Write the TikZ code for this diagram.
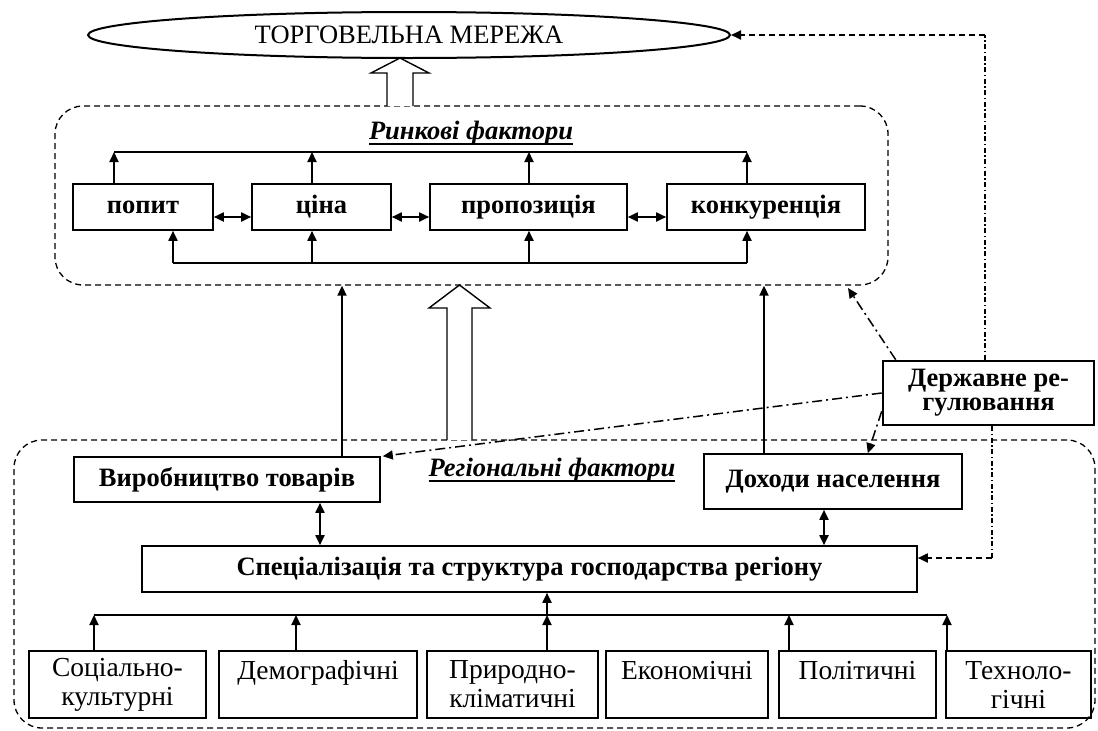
\documentclass[tikz,border=0pt]{standalone}
\usepackage{fontspec}
\setmainfont{Liberation Serif}
\usetikzlibrary{arrows.meta,shapes.geometric}
\newcommand\myul[1]{\setbox0\hbox{#1}\leavevmode\rlap{\rule[-6pt]{\wd0}{2.5pt}}\box0}
\begin{document}
\begin{tikzpicture}[x=1pt,y=-1pt,
  arr/.style={line width=1.8pt,-{Triangle[length=10pt,width=9pt]}},
  darr/.style={line width=1.8pt,{Triangle[length=10pt,width=9pt]}-{Triangle[length=10pt,width=9pt]}},
  ln/.style={line width=1.8pt},
  box/.style={draw,line width=1.6pt,inner sep=0pt,font=\fontsize{26.5}{29}\selectfont\bfseries},
  fbox/.style={draw,line width=1.4pt,inner sep=0pt,align=center,font=\fontsize{27.5}{29}\selectfont},
  group/.style={draw,line width=1.3pt,dash pattern=on 6pt off 4pt,rounded corners=28pt,inner sep=0pt},
  dd/.style={line width=1.5pt,dash pattern=on 10pt off 4pt on 2pt off 4pt},
  vdd/.style={line width=1.3pt,dash pattern=on 5pt off 2.5pt on 1.5pt off 2.5pt},
  dsh/.style={line width=1.8pt,dash pattern=on 6pt off 4pt},
  head/.style={font=\fontsize{26.5}{29}\selectfont\bfseries\itshape,inner sep=0pt},
  barrow/.style={draw,line width=1.4pt,fill=white,line join=miter}
]
\useasboundingbox (0,0) rectangle (1098,731);
% group boxes
\node[group,minimum width=833pt,minimum height=179pt] (market) at (471.5,195.5) {};
\node[group,minimum width=1081pt,minimum height=288pt] (region) at (554.5,584) {};
% top
\node[draw,ellipse,line width=2pt,minimum width=642pt,minimum height=46pt,inner sep=0pt,font=\fontsize{26.5}{29}\selectfont] (ell) at (409,35) {ТОРГОВЕЛЬНА МЕРЕЖА};
% block arrows
\draw[barrow] (387,106) -- (387,73) -- (371,73) -- (400,58) -- (429,73) -- (413,73) -- (413,106);
\draw[barrow] (447,440) -- (447,308) -- (429,308) -- (459.5,285) -- (490,308) -- (472,308) -- (472,440);
% market
\node[head] (mlab) at (471,133) {\myul{Ринкові фактори}};
\node[box,minimum width=140pt,minimum height=46pt] (popyt) at (143,207) {попит};
\node[box,minimum width=139pt,minimum height=46pt] (cina) at (321.5,207) {ціна};
\node[box,minimum width=197pt,minimum height=46pt] (prop) at (528.5,207) {пропозиція};
\node[box,minimum width=198pt,minimum height=46pt] (konk) at (766,207) {конкуренція};
\draw[darr] ([yshift=-10pt]popyt.east) -- ([yshift=-10pt]cina.west);
\draw[darr] ([yshift=-10pt]cina.east) -- ([yshift=-10pt]prop.west);
\draw[darr] ([yshift=-10pt]prop.east) -- ([yshift=-10pt]konk.west);
\coordinate (t1) at (114,152);
\coordinate (t2) at (312,152);
\coordinate (t3) at (529,152);
\coordinate (t4) at (747,152);
\draw[ln] (t1) -- (t4);
\draw[arr] (popyt.north -| t1) -- (t1);
\draw[arr] (cina.north -| t2) -- (t2);
\draw[arr] (prop.north -| t3) -- (t3);
\draw[arr] (konk.north -| t4) -- (t4);
\coordinate (u1) at (173,263);
\coordinate (u2) at (312,263);
\coordinate (u3) at (529,263);
\coordinate (u4) at (747,263);
\draw[ln] (u1) -- (u4);
\draw[arr] (u1) -- (popyt.south -| u1);
\draw[arr] (u2) -- (cina.south -| u2);
\draw[arr] (u3) -- (prop.south -| u3);
\draw[arr] (u4) -- (konk.south -| u4);
% state regulation
\node[draw,line width=2.6pt,minimum width=211pt,minimum height=64pt,inner sep=0pt,align=center,font=\fontsize{26.5}{24}\selectfont\bfseries] (dr) at (988.5,393) {Державне ре-\\гулювання};
% regional
\node[head] (rlab) at (552,470) {\myul{Регіональні фактори}};
\node[box,minimum width=306pt,minimum height=45pt] (virob) at (227,479.5) {Виробництво товарів};
\node[box,minimum width=258pt,minimum height=55pt] (dokh) at (833,481.5) {Доходи населення};
\node[box,minimum width=775pt,minimum height=46pt] (spec) at (529.5,569) {Спеціалізація та структура господарства регіону};
\coordinate (xa) at (342,0);
\coordinate (xb) at (764,0);
\draw[arr] (virob.north -| xa) -- (market.south -| xa);
\draw[arr] (dokh.north -| xb) -- (market.south -| xb);
\coordinate (xc) at (320,0);
\coordinate (xd) at (824,0);
\draw[darr] (virob.south -| xc) -- (spec.north -| xc);
\draw[darr] (dokh.south -| xd) -- (spec.north -| xd);
% dash-dot links
\coordinate (c1) at (985,35);
\draw[vdd] (dr.north -| c1) -- (c1);
\draw[dsh,-{Triangle[length=10pt,width=9pt]}] (c1) -- (ell.east);
\coordinate (c2) at (992,558);
\draw[vdd] (dr.south -| c2) -- (c2);
\draw[dsh,-{Triangle[length=10pt,width=9pt]}] (c2) -- (spec.east |- c2);
\coordinate (mt) at (848,288);
\draw[dd,-{Triangle[length=10pt,width=9pt]}] ([xshift=14pt]dr.north west) -- (mt);
\draw[dd,-{Triangle[length=10pt,width=9pt]}] (dr.west) -- ([xshift=2pt]virob.north east);
\draw[dd,-{Triangle[length=10pt,width=9pt]}] ([yshift=15pt]dr.south west) -- ([xshift=-95pt]dokh.north east);
% bottom factors
\node[fbox,minimum width=177pt,minimum height=67pt] (b1) at (117.5,684.5) {Соціально-\\культурні};
\node[fbox,minimum width=198pt,minimum height=67pt] (b2) at (318,684.5) {Демографічні\\\mbox{}};
\node[fbox,minimum width=171pt,minimum height=67pt] (b3) at (512.5,684.5) {Природно-\\кліматичні};
\node[fbox,minimum width=162pt,minimum height=67pt] (b4) at (687,684.5) {Економічні\\\mbox{}};
\node[fbox,minimum width=157pt,minimum height=67pt] (b5) at (857.5,684.5) {Політичні\\\mbox{}};
\node[fbox,minimum width=145pt,minimum height=67pt] (b6) at (1018.5,684.5) {Техноло-\\гічні};
\coordinate (v1) at (94,615);
\coordinate (v2) at (296,615);
\coordinate (v3) at (547,615);
\coordinate (v5) at (789,615);
\coordinate (v6) at (947,615);
\draw[ln] (v1) -- (v6);
\draw[arr] (b1.north -| v1) -- (v1);
\draw[arr] (b2.north -| v2) -- (v2);
\draw[arr] (b3.north -| v3) -- (v3);
\draw[arr] (b5.north -| v5) -- (v5);
\draw[arr] (b6.north -| v6) -- (v6);
\draw[arr] (v3) -- (spec.south -| v3);
\end{tikzpicture}
\end{document}
